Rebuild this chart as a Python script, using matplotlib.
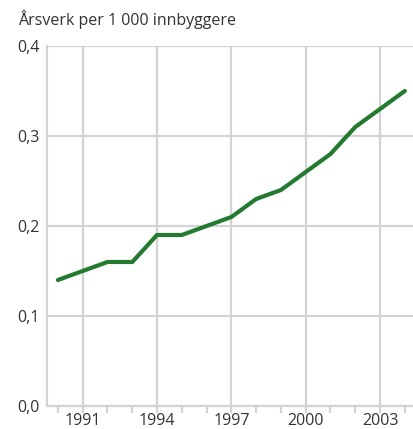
import matplotlib
matplotlib.use("Agg")
import matplotlib.pyplot as plt
from matplotlib.ticker import FixedLocator

years = list(range(1990, 2005))
values = [0.14, 0.15, 0.16, 0.16, 0.19, 0.19, 0.20, 0.21, 0.23, 0.24, 0.26, 0.28, 0.31, 0.33, 0.35]
xticks = [1991, 1994, 1997, 2000, 2003]
yticks = [0.0, 0.1, 0.2, 0.3, 0.4]
ytick_labels = ["0,0", "0,1", "0,2", "0,3", "0,4"]
title = "Årsverk per 1 000 innbyggere"

plt.rcParams['font.family'] = ['Open Sans', 'DejaVu Sans']
grid_c = "#d3d3d3"
text_c = "#333333"

fig = plt.figure(figsize=(4.14, 4.29), dpi=100)
ax = fig.add_axes([47/414, (429-406)/429, (414-47)/414, (406-46)/429])

ax.plot(years, values, color="#237a30", lw=3.0, solid_capstyle="round", solid_joinstyle="miter", zorder=3)

ax.set_xlim(1989.56, 2004.37)
ax.set_ylim(0, 0.4)
ax.set_xticks(xticks)
ax.set_yticks(yticks)
ax.set_yticklabels(ytick_labels)
ax.xaxis.set_minor_locator(FixedLocator([y for y in years if y not in xticks]))

ax.grid(True, which="major", color=grid_c, lw=1.6, zorder=1)
ax.set_axisbelow(True)
for s in ["top", "right"]:
    ax.spines[s].set_visible(False)
for s in ["left", "bottom"]:
    ax.spines[s].set_color(grid_c)
    ax.spines[s].set_linewidth(1.6)

ax.tick_params(axis="y", length=0, pad=5, labelsize=11.5, labelcolor=text_c)
ax.tick_params(axis="x", which="major", length=5, width=1.6, color=grid_c, pad=0, labelsize=11.5, labelcolor=text_c)
ax.tick_params(axis="x", which="minor", length=5, width=1.6, color=grid_c)
for lbl in ax.get_xticklabels():
    lbl.set_verticalalignment("top")

fig.text(18/414, 1 - 20/429, title, fontsize=11.5, color=text_c, ha="left", va="center")

fig.savefig("out.png", dpi=100)
